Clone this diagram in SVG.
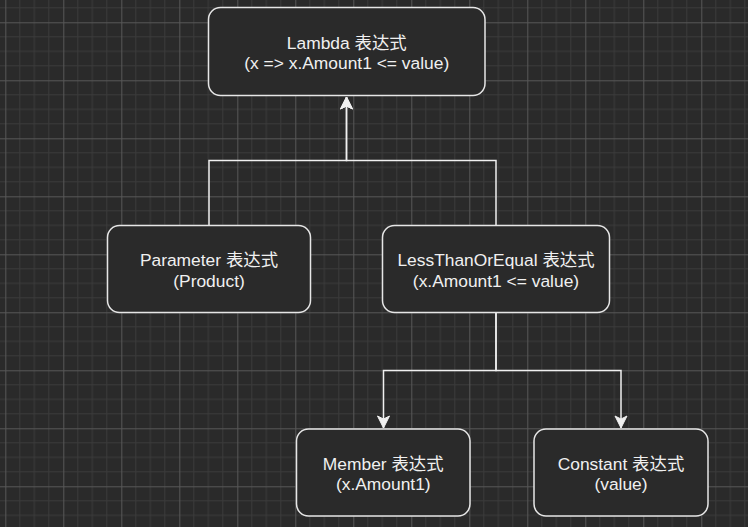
<svg xmlns="http://www.w3.org/2000/svg" width="748" height="527" viewBox="0 0 748 527">
<style>
.node rect{fill:#2a2a2a;stroke:#e6e6e6;stroke-width:1.5}
.node text{font-family:"Liberation Sans","Noto Sans CJK SC",Arial,sans-serif;font-size:17.4px;fill:#f0f0f0;text-anchor:middle}
.edge{fill:none;stroke:#f0f0f0;stroke-width:1.5}
.mn{stroke:#3b3b3b;stroke-width:1}
.mj{stroke:#575757;stroke-width:1}
</style>
<defs>
<pattern id="grid" patternUnits="userSpaceOnUse" x="5.3" y="22.3" width="58" height="58">
<line class="mn" x1="14.5" y1="0" x2="14.5" y2="58"/>
<line class="mn" x1="29" y1="0" x2="29" y2="58"/>
<line class="mn" x1="43.5" y1="0" x2="43.5" y2="58"/>
<line class="mn" x1="0" y1="14.5" x2="58" y2="14.5"/>
<line class="mn" x1="0" y1="29" x2="58" y2="29"/>
<line class="mn" x1="0" y1="43.5" x2="58" y2="43.5"/>
<line class="mj" x1="0.5" y1="0" x2="0.5" y2="58"/>
<line class="mj" x1="0" y1="0.5" x2="58" y2="0.5"/>
</pattern>
<marker id="arr" markerUnits="userSpaceOnUse" markerWidth="16" markerHeight="16" viewBox="-13 -8 16 16" refX="0" refY="0" orient="auto">
<path d="M0,0 L-12,-6 L-9,0 L-12,6 Z" fill="#f0f0f0" stroke="#f0f0f0" stroke-width="1"/>
</marker>
</defs>
<rect x="0" y="0" width="748" height="527" fill="#2a2a2a"/>
<rect x="0" y="0" width="748" height="527" fill="url(#grid)"/>
<g id="connectors">
<path class="edge" d="M209,225.5 V160.5 H346.5 V97" marker-end="url(#arr)"/>
<path class="edge" d="M496,225.5 V160.5 H346.5 V97" marker-end="url(#arr)"/>
<path class="edge" d="M496,313 V370.5 H383.5 V428" marker-end="url(#arr)"/>
<path class="edge" d="M496,313 V370.5 H621 V428" marker-end="url(#arr)"/>
</g>
<g id="lambda" class="node">
<rect x="208.5" y="7.5" width="276.5" height="88" rx="12"/>
<text x="346.75" y="48.5">Lambda 表达式</text>
<text x="346.75" y="69">(x =&gt; x.Amount1 &lt;= value)</text>
</g>
<g id="parameter" class="node">
<rect x="107.5" y="225.5" width="203" height="87" rx="12"/>
<text x="209" y="266">Parameter 表达式</text>
<text x="209" y="286.5">(Product)</text>
</g>
<g id="lessthanorequal" class="node">
<rect x="382.5" y="225.5" width="227" height="87" rx="12"/>
<text x="496" y="266">LessThanOrEqual 表达式</text>
<text x="496" y="286.5">(x.Amount1 &lt;= value)</text>
</g>
<g id="member" class="node">
<rect x="296.5" y="429" width="173.5" height="87" rx="12"/>
<text x="383.25" y="469.5">Member 表达式</text>
<text x="383.25" y="490">(x.Amount1)</text>
</g>
<g id="constant" class="node">
<rect x="534" y="429" width="174" height="87" rx="12"/>
<text x="621" y="469.5">Constant 表达式</text>
<text x="621" y="490">(value)</text>
</g>
</svg>
